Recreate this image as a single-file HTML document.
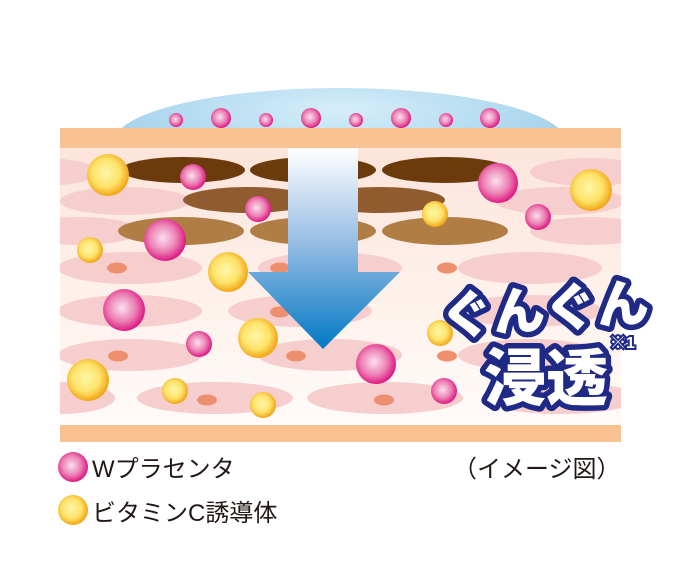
<!DOCTYPE html><html><head><meta charset="utf-8"><style>html,body{margin:0;padding:0;background:#fff;width:679px;height:580px;overflow:hidden}</style></head><body>
<svg width="679" height="580" viewBox="0 0 679 580" xmlns="http://www.w3.org/2000/svg">
<defs>
<radialGradient id="pk" cx="0.45" cy="0.45" r="0.55"><stop offset="0" stop-color="#fbe0ee"/><stop offset="0.6" stop-color="#ec7fb3"/><stop offset="1" stop-color="#de1a82"/></radialGradient>
<radialGradient id="yl" cx="0.45" cy="0.45" r="0.55"><stop offset="0" stop-color="#fff6a8"/><stop offset="0.6" stop-color="#fde36a"/><stop offset="1" stop-color="#f2a516"/></radialGradient>
<linearGradient id="bg" x1="0" y1="0" x2="0" y2="1"><stop offset="0" stop-color="#fce5db"/><stop offset="1" stop-color="#fffbf9"/></linearGradient>
<linearGradient id="ar" x1="0" y1="0" x2="0" y2="1"><stop offset="0" stop-color="#ffffff"/><stop offset="0.5" stop-color="#8fb9e2"/><stop offset="1" stop-color="#0079c4"/></linearGradient>
<radialGradient id="dm" cx="0.5" cy="0.2" r="0.7"><stop offset="0" stop-color="#d6eefa"/><stop offset="0.7" stop-color="#a8d4ec"/><stop offset="1" stop-color="#7fb0cc"/></radialGradient>
<clipPath id="sk"><rect x="60" y="148" width="561" height="277"/></clipPath>
</defs>
<ellipse cx="340" cy="142" rx="226" ry="54" fill="url(#dm)"/>
<rect x="60" y="148" width="561" height="277" fill="url(#bg)"/>
<g clip-path="url(#sk)" fill="#f6cece">
<ellipse cx="40" cy="172" rx="60" ry="14"/><ellipse cx="590" cy="172" rx="60" ry="14"/>
<ellipse cx="125" cy="201" rx="65" ry="14"/><ellipse cx="560" cy="201" rx="65" ry="14"/>
<ellipse cx="80" cy="231" rx="60" ry="14"/><ellipse cx="590" cy="231" rx="60" ry="14"/>
<ellipse cx="130" cy="268" rx="72" ry="16"/><ellipse cx="330" cy="268" rx="72" ry="16"/><ellipse cx="530" cy="268" rx="72" ry="16"/>
<ellipse cx="130" cy="311" rx="72" ry="16"/><ellipse cx="300" cy="311" rx="72" ry="16"/><ellipse cx="530" cy="311" rx="72" ry="16"/>
<ellipse cx="130" cy="355" rx="72" ry="16"/><ellipse cx="330" cy="355" rx="72" ry="16"/><ellipse cx="530" cy="355" rx="72" ry="16"/>
<ellipse cx="60" cy="398" rx="55" ry="16"/><ellipse cx="215" cy="398" rx="78" ry="16"/><ellipse cx="385" cy="398" rx="78" ry="16"/><ellipse cx="560" cy="398" rx="78" ry="16"/>
</g>
<g fill="#ee9070">
<ellipse cx="117" cy="268" rx="10" ry="5.5"/><ellipse cx="118" cy="356" rx="10" ry="5.5"/><ellipse cx="207" cy="400" rx="10" ry="5.5"/>
<ellipse cx="280" cy="268" rx="10" ry="5.5"/><ellipse cx="280" cy="312" rx="10" ry="5.5"/><ellipse cx="296" cy="356" rx="10" ry="5.5"/><ellipse cx="384" cy="400" rx="10" ry="5.5"/>
<ellipse cx="447" cy="268" rx="10" ry="5.5"/><ellipse cx="447" cy="356" rx="10" ry="5.5"/><ellipse cx="550" cy="400" rx="10" ry="5.5"/>
</g>
<g>
<ellipse cx="183" cy="170" rx="62" ry="13" fill="#6b3b0b"/><ellipse cx="313" cy="170" rx="63" ry="13" fill="#6b3b0b"/><ellipse cx="445" cy="170" rx="63" ry="13" fill="#6b3b0b"/>
<ellipse cx="248" cy="200" rx="65" ry="13" fill="#905b2f"/><ellipse cx="380" cy="200" rx="65" ry="13" fill="#905b2f"/>
<ellipse cx="181" cy="231" rx="63" ry="14" fill="#b07e45"/><ellipse cx="313" cy="231" rx="63" ry="14" fill="#b07e45"/><ellipse cx="445" cy="231" rx="63" ry="14" fill="#b07e45"/>
</g>
<rect x="60" y="128" width="561" height="20" fill="#f8c293"/>
<rect x="60" y="425" width="561" height="17" fill="#f8c293"/>
<g fill="url(#pk)">
<circle cx="176" cy="120" r="7"/><circle cx="221" cy="118" r="10"/><circle cx="266" cy="120" r="7"/><circle cx="311" cy="118" r="10"/><circle cx="356" cy="120" r="7"/><circle cx="401" cy="118" r="10"/><circle cx="446" cy="120" r="7"/><circle cx="490" cy="118" r="10"/>
<circle cx="193" cy="177" r="13"/><circle cx="258" cy="209" r="13"/><circle cx="165" cy="240" r="21"/><circle cx="498" cy="183" r="20"/><circle cx="538" cy="217" r="13"/><circle cx="124" cy="310" r="21"/><circle cx="199" cy="344" r="13"/>
</g>
<g fill="url(#yl)">
<circle cx="108" cy="175" r="21"/><circle cx="591" cy="190" r="21"/><circle cx="435" cy="214" r="13"/><circle cx="90" cy="250" r="13"/><circle cx="228" cy="272" r="20"/><circle cx="258" cy="338" r="20"/><circle cx="440" cy="333" r="13"/><circle cx="88" cy="380" r="21"/><circle cx="175" cy="391" r="13"/><circle cx="263" cy="405" r="13"/>
</g>
<polygon points="288,148 358,148 358,272 400,272 323,349 248,272 288,272" fill="url(#ar)"/>
<g fill="url(#pk)"><circle cx="376" cy="364" r="20"/><circle cx="444" cy="391" r="13"/></g>
<g font-family="'Liberation Sans','Noto Sans CJK JP',sans-serif" font-weight="900" fill="#fff" stroke="#1f2a86" stroke-width="11" stroke-linejoin="round" paint-order="stroke">
<text x="440" y="328" font-size="52" transform="rotate(-4 540 300)">ぐんぐん</text>
<text x="484" y="400" font-size="62">浸透</text>
</g>
<text x="610" y="348" font-family="'Liberation Sans','Noto Sans CJK JP',sans-serif" font-size="16" font-weight="bold" fill="#fff" stroke="#1f2a86" stroke-width="4" paint-order="stroke">※1</text>
<circle cx="73" cy="467" r="15" fill="url(#pk)"/>
<circle cx="73" cy="510" r="15" fill="url(#yl)"/>
<g font-family="'Liberation Sans','Noto Sans CJK JP',sans-serif" font-size="24" fill="#231815">
<text x="92" y="477">Wプラセンタ</text>
<text x="92" y="521">ビタミンC誘導体</text>
<text x="453" y="477">（イメージ図）</text>
</g>
</svg>
</body></html>
